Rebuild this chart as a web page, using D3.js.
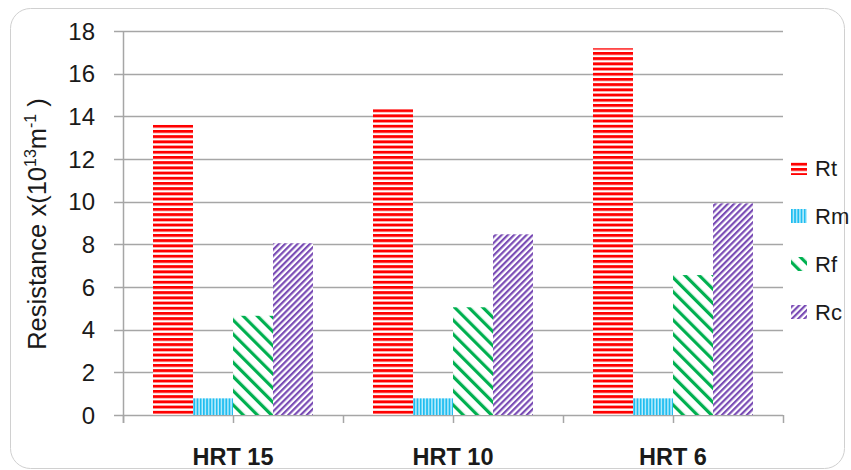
<!DOCTYPE html>
<html>
<head>
<meta charset="utf-8">
<script src="https://cdn.jsdelivr.net/npm/d3@7"></script>
<style>
  html, body { margin: 0; padding: 0; background: #ffffff; }
  svg { display: block; font-family: "Liberation Sans", Arial, sans-serif; }
</style>
</head>
<body>
<svg id="chart" width="851" height="470"></svg>
<script>
const categories = ["HRT 15", "HRT 10", "HRT 6"];
const seriesNames = ["Rt", "Rm", "Rf", "Rc"];
const Rt = [13.6, 14.33, 17.19];
const Rm = [0.78, 0.78, 0.78];
const Rf = [4.65, 5.05, 6.56];
const Rc = [8.05, 8.47, 9.92];
const yTicks = [0, 2, 4, 6, 8, 10, 12, 14, 16, 18];
const seriesValues = { Rt, Rm, Rf, Rc };

const svg = d3.select("#chart");
const defs = svg.append("defs");

// Patterns
const pRt = defs.append("pattern").attr("id", "pRt").attr("patternUnits", "userSpaceOnUse")
  .attr("width", 8).attr("height", 5.2);
pRt.append("rect").attr("width", 8).attr("height", 5.2).attr("fill", "#ffffff");
pRt.append("rect").attr("y", 0).attr("width", 8).attr("height", 2.9).attr("fill", "#ff0000");

const pRm = defs.append("pattern").attr("id", "pRm").attr("patternUnits", "userSpaceOnUse")
  .attr("width", 3.2).attr("height", 8);
pRm.append("rect").attr("width", 3.2).attr("height", 8).attr("fill", "#bfeefc");
pRm.append("rect").attr("x", 0).attr("width", 1.8).attr("height", 8).attr("fill", "#1fbdf0");

const pRf = defs.append("pattern").attr("id", "pRf").attr("patternUnits", "userSpaceOnUse")
  .attr("width", 10).attr("height", 10).attr("patternTransform", "rotate(-45)");
pRf.append("rect").attr("width", 10).attr("height", 10).attr("fill", "#ffffff");
pRf.append("rect").attr("x", 0).attr("width", 3.2).attr("height", 10).attr("fill", "#00b050");

const pRc = defs.append("pattern").attr("id", "pRc").attr("patternUnits", "userSpaceOnUse")
  .attr("width", 4.4).attr("height", 4.4).attr("patternTransform", "rotate(45)");
pRc.append("rect").attr("width", 4.4).attr("height", 4.4).attr("fill", "#ffffff");
pRc.append("rect").attr("x", 0).attr("width", 2.2).attr("height", 4.4).attr("fill", "#7a4cb5");

const fills = { Rt: "url(#pRt)", Rm: "url(#pRm)", Rf: "url(#pRf)", Rc: "url(#pRc)" };

// Outer border
svg.append("rect").attr("x", 10.5).attr("y", 8.5).attr("width", 834).attr("height", 460)
  .attr("rx", 20).attr("fill", "#ffffff").attr("stroke", "#d0d0d0").attr("stroke-width", 1);

// Scales
const y = d3.scaleLinear().domain([0, 18]).range([415, 31]);
const x0 = d3.scaleBand().domain(categories).range([123, 783]).paddingInner(0).paddingOuter(0);
const x1 = d3.scaleBand().domain(seriesNames).range([0, x0.bandwidth()]).paddingInner(0).paddingOuter(0.75);

const axisColor = "#a6a6a6";

// Gridlines
svg.append("g").selectAll("line").data(yTicks).join("line")
  .attr("x1", 114).attr("x2", 783)
  .attr("y1", d => Math.round(y(d)) + 0.5).attr("y2", d => Math.round(y(d)) + 0.5)
  .attr("stroke", axisColor).attr("stroke-width", 1.5);

// Y axis line
svg.append("line").attr("x1", 123.5).attr("x2", 123.5).attr("y1", y(18)).attr("y2", 423)
  .attr("stroke", axisColor).attr("stroke-width", 1.5);

// X-axis ticks at category edges and centres
const xTickPos = [];
categories.forEach(c => { xTickPos.push(x0(c)); xTickPos.push(x0(c) + x0.bandwidth() / 2); });
xTickPos.push(x0(categories[categories.length - 1]) + x0.bandwidth());
svg.append("g").selectAll("line").data(xTickPos).join("line")
  .attr("x1", d => Math.round(d) + 0.5).attr("x2", d => Math.round(d) + 0.5)
  .attr("y1", y(0)).attr("y2", 423)
  .attr("stroke", axisColor).attr("stroke-width", 1.5);

// Y tick labels
svg.append("g").selectAll("text").data(yTicks).join("text")
  .attr("x", 95).attr("y", d => y(d)).attr("dy", "0.36em")
  .attr("text-anchor", "end").attr("font-size", 24).attr("fill", "#1a1a1a")
  .text(d => d);

// Bars
const groups = svg.append("g").selectAll("g").data(categories).join("g")
  .attr("transform", c => `translate(${x0(c)},0)`);
groups.selectAll("rect").data((c, i) => seriesNames.map(s => ({ s, v: seriesValues[s][i] }))).join("rect")
  .attr("x", d => x1(d.s)).attr("width", x1.bandwidth())
  .attr("y", d => y(d.v)).attr("height", d => y(0) - y(d.v))
  .attr("fill", d => fills[d.s]);

// X labels
svg.append("g").selectAll("text").data(categories).join("text")
  .attr("x", c => x0(c) + x0.bandwidth() / 2).attr("y", 465)
  .attr("text-anchor", "middle").attr("font-size", 23.5).attr("font-weight", "bold").attr("fill", "#1a1a1a")
  .text(c => c);

// Y axis title
const yt = svg.append("text").attr("transform", "translate(46,224) rotate(-90)")
  .attr("text-anchor", "middle").attr("font-size", 25.5).attr("fill", "#1a1a1a");
yt.append("tspan").text("Resistance x(10");
yt.append("tspan").attr("font-size", 16).attr("dy", -10).text("13");
yt.append("tspan").attr("dy", 10).text("m");
yt.append("tspan").attr("font-size", 16).attr("dy", -10).text("-1");
yt.append("tspan").attr("dy", 10).text(" )");

// Legend
const legend = svg.append("g").selectAll("g").data(seriesNames).join("g")
  .attr("transform", (d, i) => `translate(791,${168 + i * 48})`);
legend.append("rect").attr("x", 0).attr("y", -7).attr("width", 16).attr("height", 14)
  .attr("fill", d => fills[d]);
legend.append("text").attr("x", 24).attr("y", 0).attr("dy", "0.36em")
  .attr("font-size", 22).attr("fill", "#1a1a1a").text(d => d);
</script>
</body>
</html>
